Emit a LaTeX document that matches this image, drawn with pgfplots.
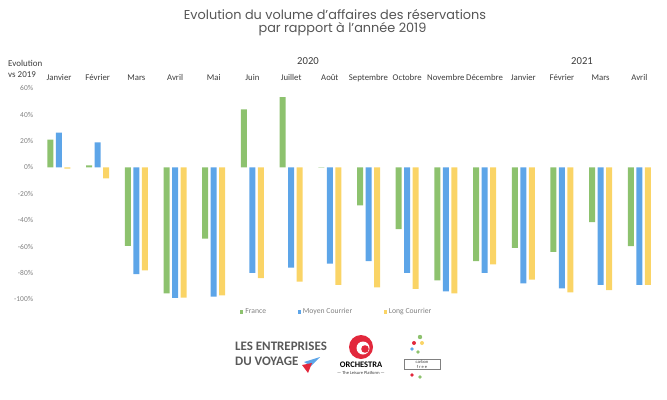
\documentclass[border=0pt]{standalone}
\usepackage{fontspec}
\setmainfont{Carlito}
\newfontfamily\titlefont{Poppins}
\usepackage{pgfplots}
\pgfplotsset{compat=1.18}
\definecolor{cfr}{RGB}{141,194,110}
\definecolor{cmc}{RGB}{93,165,232}
\definecolor{clc}{RGB}{250,212,102}
\definecolor{txt}{RGB}{60,60,60}
\definecolor{ttl}{RGB}{85,85,85}
\definecolor{orch}{RGB}{226,40,60}
\begin{document}
\begin{tikzpicture}[x=1bp,y=1bp]
\path[use as bounding box] (0,0) rectangle (667,399);
\begin{axis}[
  at={(39.65bp,99.7bp)}, anchor=south west,
  scale only axis, width=619bp, height=211bp,
  xmin=-0.5, xmax=15.5, ymin=-100, ymax=60,
  clip=false,
  axis line style={draw=none},
  ybar=2.5bp, bar width=6bp,
  xtick={0,...,15},
  xticklabels={Janvier,Février,Mars,Avril,Mai,Juin,Juillet,Août,Septembre,Octobre,Novembre,Décembre,Janvier,Février,Mars,Avril},
  xticklabel pos=upper,
  major tick length=0pt,
  x tick label style={font=\fontsize{8.8}{10}\selectfont, text=txt, anchor=base, yshift=7.8bp},
  ytick={-100,-80,...,60},
  yticklabel={\pgfmathprintnumber{\tick}\%},
  y tick label style={font=\fontsize{7.5}{8}\selectfont, text=gray, xshift=-3bp},
  /pgf/number format/assume math mode=true,
  legend columns=3,
  legend style={at={(0.480,-0.06)}, anchor=center, draw=none, fill=none,
    font=\fontsize{7.7}{8}\selectfont, text=gray,
    /tikz/every even column/.append style={column sep=29.5bp}},
  legend image code/.code={\fill[#1] (0bp,-1.6bp) rectangle (3.2bp,1.6bp);},
]
\addplot[fill=cfr, draw=none] coordinates {
 (0,21) (1,1.5) (2,-59.5) (3,-95.5) (4,-54) (5,44) (6,53.4) (7,0.3)
 (8,-28.8) (9,-46.7) (10,-85.6) (11,-71) (12,-61) (13,-64) (14,-41.4) (15,-59.6)};
\addplot[fill=cmc, draw=none] coordinates {
 (0,26.3) (1,19) (2,-81) (3,-99) (4,-98) (5,-80) (6,-76) (7,-73)
 (8,-71) (9,-80) (10,-94) (11,-80) (12,-88) (13,-91.7) (14,-89) (15,-89)};
\addplot[fill=clc, draw=none] coordinates {
 (0,-1) (1,-8.3) (2,-78) (3,-98.7) (4,-97) (5,-84) (6,-86.6) (7,-89)
 (8,-91) (9,-92) (10,-95.5) (11,-73.5) (12,-85) (13,-94.7) (14,-93) (15,-89)};
\legend{France, Moyen Courrier, Long Courrier}
\end{axis}
% titles
\node[font=\titlefont\fontsize{12.9}{14}\selectfont, text=ttl] at (335,384) {Evolution du volume d’affaires des réservations};
\node[font=\titlefont\fontsize{12.9}{14}\selectfont, text=ttl] at (342.5,370) {par rapport à l’année 2019};
\node[font=\fontsize{9}{11}\selectfont, text=txt, align=left, anchor=north west, inner sep=0pt] at (8,339) {Evolution\\vs 2019};
\node[font=\fontsize{10.7}{12}\selectfont, text=txt] at (308,338) {2020};
\node[font=\fontsize{10.7}{12}\selectfont, text=txt] at (582,338) {2021};
% logos
\node[font=\bfseries\fontsize{13}{15}\selectfont, text=txt!85, align=left, anchor=west, inner sep=0pt] at (235,45) {LES ENTREPRISES\\DU VOYAGE};
\fill[cmc] (304,37) -- (320,42) -- (311,33) -- cycle;
\fill[orch] (302,34) -- (312,36) -- (308,26) -- cycle;
\fill[orch] (361,52) circle (12);
\fill[white] (363,51) circle (6.5);
\fill[orch] (365,50) circle (3.8);
\node[font=\bfseries\fontsize{8.5}{9}\selectfont, text=black] at (361,34) {ORCHESTRA};
\node[font=\fontsize{4.5}{5}\selectfont, text=txt] at (361,26) {--- The Leisure Platform ---};
\node[draw=gray, font=\fontsize{4.5}{5}\selectfont, text=txt, align=center, inner sep=1pt, minimum width=36bp] at (422,35) {carbon\\f\ r\ e\ e};
\fill[cfr] (420,62) circle (2.2);
\fill[orch] (414,56) circle (2);
\fill[clc] (422,56) circle (2);
\fill[cmc] (412,50) circle (1.8);
\fill[cfr] (418,47) circle (1.8);
\fill[orch] (412,24) circle (1.8);
\fill[cfr] (420,22) circle (1.8);
\end{tikzpicture}
\end{document}
